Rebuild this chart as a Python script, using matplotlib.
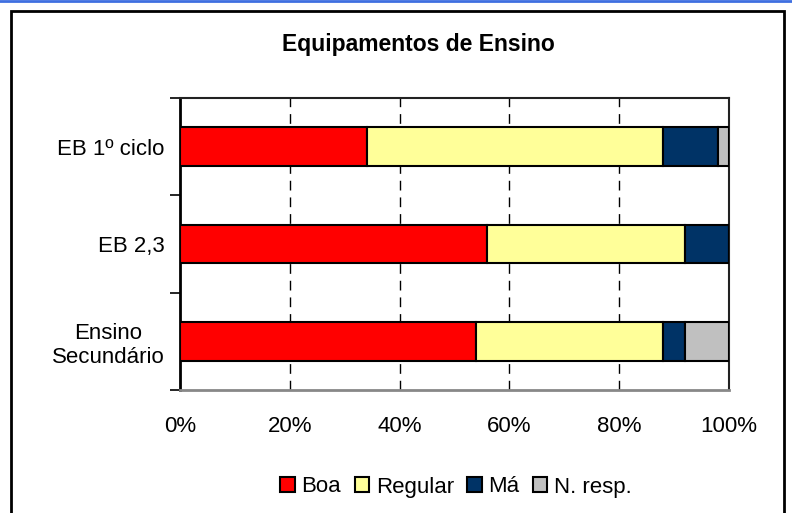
import numpy as np
import matplotlib.pyplot as plt
from matplotlib.patches import Rectangle
from matplotlib.lines import Line2D

plt.rcParams['font.family'] = ['Liberation Sans', 'DejaVu Sans']

# Dados
categorias = ['EB 1º ciclo', 'EB 2,3', 'Ensino\nSecundário']
series = ['Boa', 'Regular', 'Má', 'N. resp.']
boa = [34, 56, 54]
regular = [54, 36, 34]
ma = [10, 8, 4]
n_resp = [2, 0, 8]
cores = ['#FF0000', '#FFFF99', '#003366', '#C0C0C0']
xticks = [0, 20, 40, 60, 80, 100]

fig = plt.figure(figsize=(7.92, 5.13), dpi=100)
ax = fig.add_axes([180 / 792, 1 - 390 / 513, 549 / 792, 292 / 513])

y = np.arange(len(categorias))
esquerda = np.zeros(len(categorias))
for nome, vals, cor in zip(series, [boa, regular, ma, n_resp], cores):
    vals = np.array(vals, dtype=float)
    ax.barh(y, vals, left=esquerda, height=0.4, color=cor, edgecolor='black',
            linewidth=1.5, label=nome, zorder=3)
    esquerda += vals

ax.set_xlim(0, 100)
ax.set_ylim(2.5, -0.5)
ax.set_xticks(xticks)
ax.set_xticklabels([f'{v}%' for v in xticks], fontsize=16)
ax.tick_params(axis='x', length=0, pad=19)

ax.set_yticks(y)
ax.set_yticklabels(categorias, fontsize=16, multialignment='center')
ax.tick_params(axis='y', length=0, pad=11)
ax.set_yticks([-0.5, 0.5, 1.5, 2.5], minor=True)
ax.tick_params(axis='y', which='minor', length=7, width=1.2, direction='out')

for v in xticks[1:-1]:
    ax.axvline(v, color='black', linestyle=(0, (7, 5)), linewidth=1, zorder=1)

ax.spines['left'].set_linewidth(2)
ax.spines['left'].set_color('black')
ax.spines['top'].set_linewidth(1.5)
ax.spines['top'].set_color('#222222')
ax.spines['right'].set_linewidth(1.5)
ax.spines['right'].set_color('#222222')
ax.spines['bottom'].set_linewidth(2)
ax.spines['bottom'].set_color('#888888')

fig.text(418 / 792, 1 - 45 / 513, 'Equipamentos de Ensino', ha='center', va='center',
         fontsize=16.5, fontweight='bold')

handles, labels = ax.get_legend_handles_labels()
fig.legend(handles, labels, loc='center', bbox_to_anchor=(456 / 792, 1 - 487 / 513),
           ncol=4, frameon=False, fontsize=16, handlelength=0.65, handleheight=0.65,
           handletextpad=0.3, columnspacing=0.6, borderaxespad=0)

# moldura do gráfico
fig.add_artist(Rectangle((11 / 792, -0.05), 773 / 792, 1.05 - 11 / 513,
                         transform=fig.transFigure, fill=False, edgecolor='black', linewidth=2))
fig.add_artist(Line2D([0, 1], [1 - 1 / 513, 1 - 1 / 513], transform=fig.transFigure,
                      color='#3f6fe0', linewidth=2))

fig.savefig('out.png', dpi=100)
